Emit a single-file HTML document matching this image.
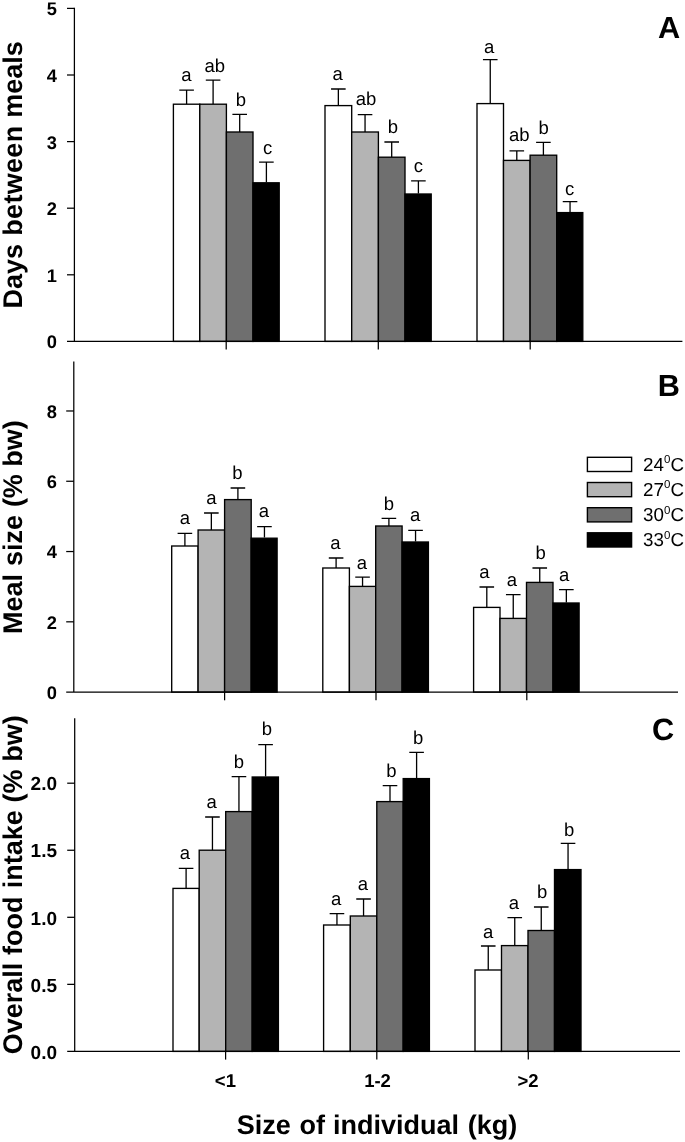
<!DOCTYPE html>
<html><head><meta charset="utf-8"><title>Figure</title>
<style>html,body{margin:0;padding:0;background:#fff;}svg{display:block;filter:blur(0.35px);}text{font-family:"Liberation Sans",sans-serif;fill:#000;font-kerning:none;text-rendering:geometricPrecision;}.b{font-weight:bold;}</style></head><body>
<svg width="685" height="1142" viewBox="0 0 685 1142">
<rect x="0" y="0" width="685" height="1142" fill="#fff"/>
<g id="panelA">
<path d="M186.60 104.20V90.20M179.30 90.20H193.90" stroke="#000" stroke-width="1.3" fill="none"/>
<path d="M213.10 104.20V80.20M205.80 80.20H220.40" stroke="#000" stroke-width="1.3" fill="none"/>
<path d="M239.70 132.00V114.40M232.40 114.40H247.00" stroke="#000" stroke-width="1.3" fill="none"/>
<path d="M266.40 182.20V162.20M259.10 162.20H273.70" stroke="#000" stroke-width="1.3" fill="none"/>
<rect x="173.40" y="104.20" width="26.40" height="237.20" fill="#ffffff" stroke="#000" stroke-width="1.35"/>
<rect x="199.80" y="104.20" width="26.60" height="237.20" fill="#b4b4b4" stroke="#000" stroke-width="1.35"/>
<rect x="226.40" y="132.00" width="26.60" height="209.40" fill="#6f6f6f" stroke="#000" stroke-width="1.35"/>
<rect x="253.00" y="182.80" width="26.20" height="158.60" fill="#000000" stroke="#000" stroke-width="1.35"/>
<text x="186.40" y="81.10" font-size="18.5" text-anchor="middle">a</text>
<text x="214.80" y="71.70" font-size="18.5" text-anchor="middle">ab</text>
<text x="240.90" y="105.70" font-size="18.5" text-anchor="middle">b</text>
<text x="267.70" y="154.10" font-size="18.5" text-anchor="middle">c</text>
<path d="M338.35 105.60V89.00M331.05 89.00H345.65" stroke="#000" stroke-width="1.3" fill="none"/>
<path d="M365.05 132.00V114.60M357.75 114.60H372.35" stroke="#000" stroke-width="1.3" fill="none"/>
<path d="M391.70 157.20V142.00M384.40 142.00H399.00" stroke="#000" stroke-width="1.3" fill="none"/>
<path d="M418.40 193.40V180.80M411.10 180.80H425.70" stroke="#000" stroke-width="1.3" fill="none"/>
<rect x="325.00" y="105.60" width="26.70" height="235.80" fill="#ffffff" stroke="#000" stroke-width="1.35"/>
<rect x="351.70" y="132.00" width="26.70" height="209.40" fill="#b4b4b4" stroke="#000" stroke-width="1.35"/>
<rect x="378.40" y="157.20" width="26.60" height="184.20" fill="#6f6f6f" stroke="#000" stroke-width="1.35"/>
<rect x="405.00" y="194.00" width="26.20" height="147.40" fill="#000000" stroke="#000" stroke-width="1.35"/>
<text x="337.55" y="79.50" font-size="18.5" text-anchor="middle">a</text>
<text x="366.05" y="105.10" font-size="18.5" text-anchor="middle">ab</text>
<text x="393.00" y="133.10" font-size="18.5" text-anchor="middle">b</text>
<text x="418.40" y="171.50" font-size="18.5" text-anchor="middle">c</text>
<path d="M490.25 103.60V59.60M482.95 59.60H497.55" stroke="#000" stroke-width="1.3" fill="none"/>
<path d="M516.80 160.40V150.80M509.50 150.80H524.10" stroke="#000" stroke-width="1.3" fill="none"/>
<path d="M543.40 155.20V142.40M536.10 142.40H550.70" stroke="#000" stroke-width="1.3" fill="none"/>
<path d="M570.05 212.00V201.60M562.75 201.60H577.35" stroke="#000" stroke-width="1.3" fill="none"/>
<rect x="477.00" y="103.60" width="26.50" height="237.80" fill="#ffffff" stroke="#000" stroke-width="1.35"/>
<rect x="503.50" y="160.40" width="26.60" height="181.00" fill="#b4b4b4" stroke="#000" stroke-width="1.35"/>
<rect x="530.10" y="155.20" width="26.60" height="186.20" fill="#6f6f6f" stroke="#000" stroke-width="1.35"/>
<rect x="556.70" y="212.60" width="26.10" height="128.80" fill="#000000" stroke="#000" stroke-width="1.35"/>
<text x="489.25" y="52.50" font-size="18.5" text-anchor="middle">a</text>
<text x="519.20" y="141.30" font-size="18.5" text-anchor="middle">ab</text>
<text x="543.60" y="133.50" font-size="18.5" text-anchor="middle">b</text>
<text x="569.65" y="195.10" font-size="18.5" text-anchor="middle">c</text>
<path d="M74.40 7.70V341.40M67.00 341.40H682.40" stroke="#000" stroke-width="1.25" fill="none"/>
<text class="b" x="57.0" y="348.35" font-size="18.3" text-anchor="end">0</text>
<path d="M67.00 274.80H74.40" stroke="#000" stroke-width="1.25"/>
<text class="b" x="57.0" y="281.75" font-size="18.3" text-anchor="end">1</text>
<path d="M67.00 208.20H74.40" stroke="#000" stroke-width="1.25"/>
<text class="b" x="57.0" y="215.15" font-size="18.3" text-anchor="end">2</text>
<path d="M67.00 141.60H74.40" stroke="#000" stroke-width="1.25"/>
<text class="b" x="57.0" y="148.55" font-size="18.3" text-anchor="end">3</text>
<path d="M67.00 75.00H74.40" stroke="#000" stroke-width="1.25"/>
<text class="b" x="57.0" y="81.95" font-size="18.3" text-anchor="end">4</text>
<path d="M67.00 8.40H74.40" stroke="#000" stroke-width="1.25"/>
<text class="b" x="57.0" y="15.35" font-size="18.3" text-anchor="end">5</text>
<path d="M226.20 341.40V349.60" stroke="#000" stroke-width="1.25"/>
<path d="M378.30 341.40V349.60" stroke="#000" stroke-width="1.25"/>
<path d="M530.20 341.40V349.60" stroke="#000" stroke-width="1.25"/>
<text class="b" font-size="27" transform="translate(22.4 308.62) rotate(-90)">Days</text>
<text class="b" font-size="27" letter-spacing="0.3" transform="translate(22.4 235.67) rotate(-90)">between</text>
<text class="b" font-size="27" transform="translate(22.4 117.86) rotate(-90)">meals</text>
<text class="b" x="658.0" y="38.4" font-size="30.7">A</text>
</g>
<g id="panelB">
<path d="M184.90 546.00V533.40M177.60 533.40H192.20" stroke="#000" stroke-width="1.3" fill="none"/>
<path d="M211.35 530.00V513.00M204.05 513.00H218.65" stroke="#000" stroke-width="1.3" fill="none"/>
<path d="M237.90 499.60V488.00M230.60 488.00H245.20" stroke="#000" stroke-width="1.3" fill="none"/>
<path d="M264.45 537.60V526.60M257.15 526.60H271.75" stroke="#000" stroke-width="1.3" fill="none"/>
<rect x="171.70" y="546.00" width="26.40" height="146.10" fill="#ffffff" stroke="#000" stroke-width="1.35"/>
<rect x="198.10" y="530.00" width="26.50" height="162.10" fill="#b4b4b4" stroke="#000" stroke-width="1.35"/>
<rect x="224.60" y="499.60" width="26.60" height="192.50" fill="#6f6f6f" stroke="#000" stroke-width="1.35"/>
<rect x="251.20" y="538.20" width="25.90" height="153.90" fill="#000000" stroke="#000" stroke-width="1.35"/>
<text x="184.90" y="524.10" font-size="18.5" text-anchor="middle">a</text>
<text x="211.35" y="504.10" font-size="18.5" text-anchor="middle">a</text>
<text x="237.40" y="479.10" font-size="18.5" text-anchor="middle">b</text>
<text x="263.95" y="517.10" font-size="18.5" text-anchor="middle">a</text>
<path d="M336.10 568.00V558.00M328.80 558.00H343.40" stroke="#000" stroke-width="1.3" fill="none"/>
<path d="M362.55 586.40V577.20M355.25 577.20H369.85" stroke="#000" stroke-width="1.3" fill="none"/>
<path d="M388.90 526.00V518.40M381.60 518.40H396.20" stroke="#000" stroke-width="1.3" fill="none"/>
<path d="M415.55 541.40V530.40M408.25 530.40H422.85" stroke="#000" stroke-width="1.3" fill="none"/>
<rect x="322.80" y="568.00" width="26.60" height="124.10" fill="#ffffff" stroke="#000" stroke-width="1.35"/>
<rect x="349.40" y="586.40" width="26.30" height="105.70" fill="#b4b4b4" stroke="#000" stroke-width="1.35"/>
<rect x="375.70" y="526.00" width="26.40" height="166.10" fill="#6f6f6f" stroke="#000" stroke-width="1.35"/>
<rect x="402.10" y="542.00" width="26.30" height="150.10" fill="#000000" stroke="#000" stroke-width="1.35"/>
<text x="335.50" y="548.50" font-size="18.5" text-anchor="middle">a</text>
<text x="361.85" y="569.10" font-size="18.5" text-anchor="middle">a</text>
<text x="388.80" y="510.10" font-size="18.5" text-anchor="middle">b</text>
<text x="415.05" y="521.10" font-size="18.5" text-anchor="middle">a</text>
<path d="M486.80 607.40V587.00M479.50 587.00H494.10" stroke="#000" stroke-width="1.3" fill="none"/>
<path d="M513.25 618.40V594.60M505.95 594.60H520.55" stroke="#000" stroke-width="1.3" fill="none"/>
<path d="M539.75 582.40V568.00M532.45 568.00H547.05" stroke="#000" stroke-width="1.3" fill="none"/>
<path d="M566.35 602.40V589.60M559.05 589.60H573.65" stroke="#000" stroke-width="1.3" fill="none"/>
<rect x="473.60" y="607.40" width="26.40" height="84.70" fill="#ffffff" stroke="#000" stroke-width="1.35"/>
<rect x="500.00" y="618.40" width="26.50" height="73.70" fill="#b4b4b4" stroke="#000" stroke-width="1.35"/>
<rect x="526.50" y="582.40" width="26.50" height="109.70" fill="#6f6f6f" stroke="#000" stroke-width="1.35"/>
<rect x="553.00" y="603.00" width="26.10" height="89.10" fill="#000000" stroke="#000" stroke-width="1.35"/>
<text x="484.30" y="577.70" font-size="18.5" text-anchor="middle">a</text>
<text x="511.95" y="585.50" font-size="18.5" text-anchor="middle">a</text>
<text x="540.75" y="558.70" font-size="18.5" text-anchor="middle">b</text>
<text x="564.15" y="580.70" font-size="18.5" text-anchor="middle">a</text>
<path d="M73.80 361.40V692.10M66.20 692.10H678.00" stroke="#000" stroke-width="1.25" fill="none"/>
<text class="b" x="57.0" y="699.05" font-size="18.3" text-anchor="end">0</text>
<path d="M66.20 621.82H73.80" stroke="#000" stroke-width="1.25"/>
<text class="b" x="57.0" y="628.77" font-size="18.3" text-anchor="end">2</text>
<path d="M66.20 551.54H73.80" stroke="#000" stroke-width="1.25"/>
<text class="b" x="57.0" y="558.49" font-size="18.3" text-anchor="end">4</text>
<path d="M66.20 481.26H73.80" stroke="#000" stroke-width="1.25"/>
<text class="b" x="57.0" y="488.21" font-size="18.3" text-anchor="end">6</text>
<path d="M66.20 410.98H73.80" stroke="#000" stroke-width="1.25"/>
<text class="b" x="57.0" y="417.93" font-size="18.3" text-anchor="end">8</text>
<path d="M224.60 692.10V700.30" stroke="#000" stroke-width="1.25"/>
<path d="M376.00 692.10V700.30" stroke="#000" stroke-width="1.25"/>
<path d="M526.80 692.10V700.30" stroke="#000" stroke-width="1.25"/>
<text class="b" font-size="27" transform="translate(22.2 634.01) rotate(-90)">Meal</text>
<text class="b" font-size="27" transform="translate(22.2 566.03) rotate(-90)">size</text>
<text class="b" font-size="27" transform="translate(22.2 507.12) rotate(-90)">(%</text>
<text class="b" font-size="27" transform="translate(22.2 466.86) rotate(-90)">bw)</text>
<text class="b" x="657.7" y="396.3" font-size="30.7">B</text>
</g>
<g id="panelC">
<path d="M186.10 888.40V868.40M178.80 868.40H193.40" stroke="#000" stroke-width="1.3" fill="none"/>
<path d="M212.45 850.20V817.00M205.15 817.00H219.75" stroke="#000" stroke-width="1.3" fill="none"/>
<path d="M238.95 811.60V776.60M231.65 776.60H246.25" stroke="#000" stroke-width="1.3" fill="none"/>
<path d="M265.60 776.40V744.60M258.30 744.60H272.90" stroke="#000" stroke-width="1.3" fill="none"/>
<rect x="173.00" y="888.40" width="26.20" height="163.00" fill="#ffffff" stroke="#000" stroke-width="1.35"/>
<rect x="199.20" y="850.20" width="26.50" height="201.20" fill="#b4b4b4" stroke="#000" stroke-width="1.35"/>
<rect x="225.70" y="811.60" width="26.50" height="239.80" fill="#6f6f6f" stroke="#000" stroke-width="1.35"/>
<rect x="252.20" y="777.00" width="26.20" height="274.40" fill="#000000" stroke="#000" stroke-width="1.35"/>
<text x="184.80" y="858.50" font-size="18.5" text-anchor="middle">a</text>
<text x="211.65" y="808.10" font-size="18.5" text-anchor="middle">a</text>
<text x="238.85" y="767.70" font-size="18.5" text-anchor="middle">b</text>
<text x="266.90" y="734.50" font-size="18.5" text-anchor="middle">b</text>
<path d="M336.95 925.00V913.60M329.65 913.60H344.25" stroke="#000" stroke-width="1.3" fill="none"/>
<path d="M363.55 916.00V899.00M356.25 899.00H370.85" stroke="#000" stroke-width="1.3" fill="none"/>
<path d="M390.00 801.60V785.60M382.70 785.60H397.30" stroke="#000" stroke-width="1.3" fill="none"/>
<path d="M416.60 778.00V752.40M409.30 752.40H423.90" stroke="#000" stroke-width="1.3" fill="none"/>
<rect x="323.60" y="925.00" width="26.70" height="126.40" fill="#ffffff" stroke="#000" stroke-width="1.35"/>
<rect x="350.30" y="916.00" width="26.50" height="135.40" fill="#b4b4b4" stroke="#000" stroke-width="1.35"/>
<rect x="376.80" y="801.60" width="26.40" height="249.80" fill="#6f6f6f" stroke="#000" stroke-width="1.35"/>
<rect x="403.20" y="778.60" width="26.20" height="272.80" fill="#000000" stroke="#000" stroke-width="1.35"/>
<text x="336.25" y="904.50" font-size="18.5" text-anchor="middle">a</text>
<text x="362.85" y="889.50" font-size="18.5" text-anchor="middle">a</text>
<text x="391.30" y="776.70" font-size="18.5" text-anchor="middle">b</text>
<text x="418.10" y="743.50" font-size="18.5" text-anchor="middle">b</text>
<path d="M488.25 970.00V946.00M480.95 946.00H495.55" stroke="#000" stroke-width="1.3" fill="none"/>
<path d="M514.75 945.60V917.60M507.45 917.60H522.05" stroke="#000" stroke-width="1.3" fill="none"/>
<path d="M541.25 930.50V907.00M533.95 907.00H548.55" stroke="#000" stroke-width="1.3" fill="none"/>
<path d="M568.05 869.00V843.40M560.75 843.40H575.35" stroke="#000" stroke-width="1.3" fill="none"/>
<rect x="475.00" y="970.00" width="26.50" height="81.40" fill="#ffffff" stroke="#000" stroke-width="1.35"/>
<rect x="501.50" y="945.60" width="26.50" height="105.80" fill="#b4b4b4" stroke="#000" stroke-width="1.35"/>
<rect x="528.00" y="930.50" width="26.50" height="120.90" fill="#6f6f6f" stroke="#000" stroke-width="1.35"/>
<rect x="554.50" y="869.60" width="26.50" height="181.80" fill="#000000" stroke="#000" stroke-width="1.35"/>
<text x="488.25" y="937.50" font-size="18.5" text-anchor="middle">a</text>
<text x="513.85" y="909.10" font-size="18.5" text-anchor="middle">a</text>
<text x="542.25" y="897.50" font-size="18.5" text-anchor="middle">b</text>
<text x="569.15" y="835.50" font-size="18.5" text-anchor="middle">b</text>
<path d="M74.70 718.20V1051.40M67.20 1051.40H680.00" stroke="#000" stroke-width="1.25" fill="none"/>
<text class="b" x="57.0" y="1058.60" font-size="19.0" text-anchor="end">0.0</text>
<path d="M67.20 984.35H74.70" stroke="#000" stroke-width="1.25"/>
<text class="b" x="57.0" y="991.55" font-size="19.0" text-anchor="end">0.5</text>
<path d="M67.20 917.30H74.70" stroke="#000" stroke-width="1.25"/>
<text class="b" x="57.0" y="924.50" font-size="19.0" text-anchor="end">1.0</text>
<path d="M67.20 850.25H74.70" stroke="#000" stroke-width="1.25"/>
<text class="b" x="57.0" y="857.45" font-size="19.0" text-anchor="end">1.5</text>
<path d="M67.20 783.20H74.70" stroke="#000" stroke-width="1.25"/>
<text class="b" x="57.0" y="790.40" font-size="19.0" text-anchor="end">2.0</text>
<path d="M225.60 1051.40V1059.60" stroke="#000" stroke-width="1.25"/>
<path d="M376.80 1051.40V1059.60" stroke="#000" stroke-width="1.25"/>
<path d="M528.30 1051.40V1059.60" stroke="#000" stroke-width="1.25"/>
<text class="b" font-size="27" transform="translate(22.3 1054.23) rotate(-90)">Overall</text>
<text class="b" font-size="27" transform="translate(22.3 955.03) rotate(-90)">food</text>
<text class="b" font-size="27" transform="translate(22.3 888.15) rotate(-90)">intake</text>
<text class="b" font-size="27" transform="translate(22.3 802.52) rotate(-90)">(%</text>
<text class="b" font-size="27" transform="translate(22.3 761.86) rotate(-90)">bw)</text>
<text class="b" x="652.0" y="739.7" font-size="30.7">C</text>
</g>
<g id="legend">
<rect x="587.4" y="457.30" width="44.2" height="14.2" fill="#ffffff" stroke="#000" stroke-width="1.4"/>
<text x="643.0" y="470.90" font-size="18.8">24<tspan font-size="11.5" dy="-7.8">0</tspan><tspan dy="7.8" dx="0.3">C</tspan></text>
<rect x="587.4" y="482.50" width="44.2" height="14.2" fill="#b4b4b4" stroke="#000" stroke-width="1.4"/>
<text x="643.0" y="496.10" font-size="18.8">27<tspan font-size="11.5" dy="-7.8">0</tspan><tspan dy="7.8" dx="0.3">C</tspan></text>
<rect x="587.4" y="507.70" width="44.2" height="14.2" fill="#6f6f6f" stroke="#000" stroke-width="1.4"/>
<text x="643.0" y="521.30" font-size="18.8">30<tspan font-size="11.5" dy="-7.8">0</tspan><tspan dy="7.8" dx="0.3">C</tspan></text>
<rect x="587.4" y="532.80" width="44.2" height="14.2" fill="#000000" stroke="#000" stroke-width="1.4"/>
<text x="643.0" y="546.40" font-size="18.8">33<tspan font-size="11.5" dy="-7.8">0</tspan><tspan dy="7.8" dx="0.3">C</tspan></text>
</g>
<text class="b" x="225.4" y="1086.5" font-size="18.5" text-anchor="middle">&lt;1</text>
<text class="b" x="377.5" y="1086.5" font-size="18.5" text-anchor="middle">1-2</text>
<text class="b" x="528.0" y="1086.5" font-size="18.5" text-anchor="middle">&gt;2</text>
<text class="b" x="236.81" y="1134.2" font-size="27">Size</text>
<text class="b" x="299.50" y="1134.2" font-size="27">of</text>
<text class="b" x="332.96" y="1134.2" font-size="27">individual</text>
<text class="b" x="467.85" y="1134.2" font-size="27">(kg)</text>
</svg></body></html>
